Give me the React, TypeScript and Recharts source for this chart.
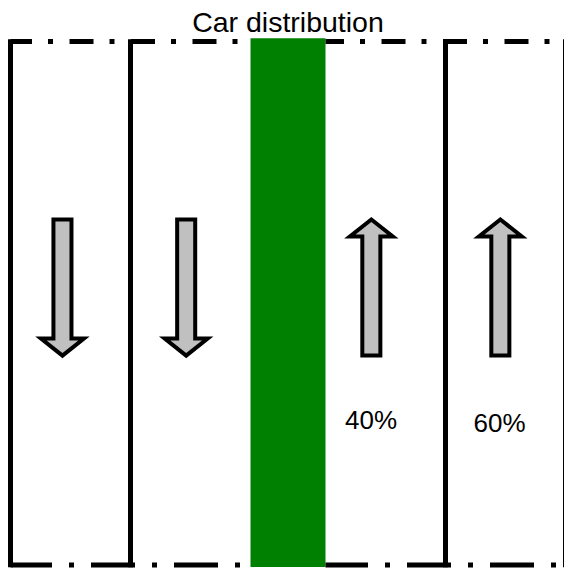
import React from "react";
import { ComposedChart, XAxis, YAxis, ReferenceLine, ReferenceArea, Scatter } from "recharts";

const W = 564;
const H = 568;

// road frame: x in lane widths (0 = left kerb), y in % of road length (0 = bottom)
const solidEdges = [0, 1, 3.625, 4.625];
const medianStrip = [2, 2.625];
const roadEnds = [0, 100];
const carriageways = [
  [0, 2],
  [2.625, 4.625],
];

// traffic arrows, one per lane
const arrowX = [0.433, 1.464, 3.007, 4.082];
const arrowDir = ["down", "down", "up", "up"];
const arrowSpan = [40, 66];

// share of cars going up
const shareX = [3.005, 4.076];
const shareY = [27.7, 27.2];
const shareText = ["40%", "60%"];

const PX_LANE = 120;
const PX_Y = 5.235;
const ORIGIN_X = 10.5;
const ORIGIN_Y = 565;
const xDomain = [-ORIGIN_X / PX_LANE, (W - ORIGIN_X) / PX_LANE];
const yDomain = [(ORIGIN_Y - H) / PX_Y, ORIGIN_Y / PX_Y];

const HEAD_HALF = 0.179;
const FONT = "'Liberation Sans', Arial, sans-serif";

const topDash = "24 16 5 16.5";
const bottomDash = "44 17 5 17";

const arrowShape = (dir: string) => (p: any) => {
  const x = Math.min(p.x, p.x + p.width);
  const y = Math.min(p.y, p.y + p.height);
  const w = Math.abs(p.width);
  const h = Math.abs(p.height);
  const cx = x + w / 2;
  const sw = w * 0.21;
  const hl = h * 0.125;
  const pts =
    dir === "down"
      ? [
          [cx - sw, y],
          [cx + sw, y],
          [cx + sw, y + h - hl],
          [x + w, y + h - hl],
          [cx, y + h],
          [x, y + h - hl],
          [cx - sw, y + h - hl],
        ]
      : [
          [cx - sw, y + h],
          [cx + sw, y + h],
          [cx + sw, y + hl],
          [x + w, y + hl],
          [cx, y],
          [x, y + hl],
          [cx - sw, y + hl],
        ];
  return (
    <polygon
      points={pts.map((q) => q.join(",")).join(" ")}
      fill="#c0c0c0"
      stroke="#000"
      strokeWidth={4}
      strokeLinejoin="miter"
    />
  );
};

const shareLabel = (p: any) => (
  <text
    x={p.cx}
    y={p.cy}
    textAnchor="middle"
    dominantBaseline="central"
    fontFamily={FONT}
    fontSize={26}
    fill="#000"
  >
    {p.payload.label}
  </text>
);

export default function App() {
  const shares = shareText.map((label, i) => ({ x: shareX[i], y: shareY[i], label }));

  return (
    <div style={{ position: "relative", width: W, height: H, background: "#fff", overflow: "hidden" }}>
      <style>{"body{margin:0}"}</style>
      <div
        style={{
          position: "absolute",
          left: ORIGIN_X,
          width: (solidEdges[3] - solidEdges[0]) * PX_LANE,
          top: 8,
          lineHeight: "28px",
          fontSize: 28.5,
          fontFamily: FONT,
          textAlign: "center",
          color: "#000",
          zIndex: 1,
        }}
      >
        Car distribution
      </div>
      <ComposedChart width={W} height={H} margin={{ top: 0, right: 0, bottom: 0, left: 0 }}>
        <XAxis type="number" dataKey="x" domain={xDomain} allowDataOverflow hide />
        <YAxis type="number" dataKey="y" domain={yDomain} allowDataOverflow hide />

        <ReferenceArea
          x1={medianStrip[0]}
          x2={medianStrip[1]}
          y1={roadEnds[0] - 0.4}
          y2={roadEnds[1] + 0.6}
          fill="#008000"
          fillOpacity={1}
          stroke="none"
          ifOverflow="visible"
        />

        {carriageways.map(([a, b], i) => (
          <ReferenceLine
            key={`top-${i}`}
            segment={[
              { x: a, y: roadEnds[1] },
              { x: b, y: roadEnds[1] },
            ]}
            stroke="#000"
            strokeWidth={5}
            strokeDasharray={topDash}
            strokeDashoffset={i === 0 ? 2.5 : 5.5}
            ifOverflow="visible"
          />
        ))}
        {carriageways.map(([a, b], i) => (
          <ReferenceLine
            key={`bottom-${i}`}
            segment={[
              { x: a, y: roadEnds[0] },
              { x: b, y: roadEnds[0] },
            ]}
            stroke="#000"
            strokeWidth={5}
            strokeDasharray={bottomDash}
            strokeDashoffset={i === 0 ? 2.5 : 1.5}
            ifOverflow="visible"
          />
        ))}
        {solidEdges.map((e) => (
          <ReferenceLine
            key={`edge-${e}`}
            segment={[
              { x: e, y: roadEnds[0] - 0.45 },
              { x: e, y: roadEnds[1] + 0.45 },
            ]}
            stroke="#000"
            strokeWidth={5}
            ifOverflow="visible"
          />
        ))}

        {arrowX.map((ax, i) => (
          <ReferenceArea
            key={`arrow-${i}`}
            x1={ax - HEAD_HALF}
            x2={ax + HEAD_HALF}
            y1={arrowSpan[0]}
            y2={arrowSpan[1]}
            shape={arrowShape(arrowDir[i])}
            ifOverflow="visible"
          />
        ))}

        <Scatter data={shares} shape={shareLabel} isAnimationActive={false} />
      </ComposedChart>
    </div>
  );
}
